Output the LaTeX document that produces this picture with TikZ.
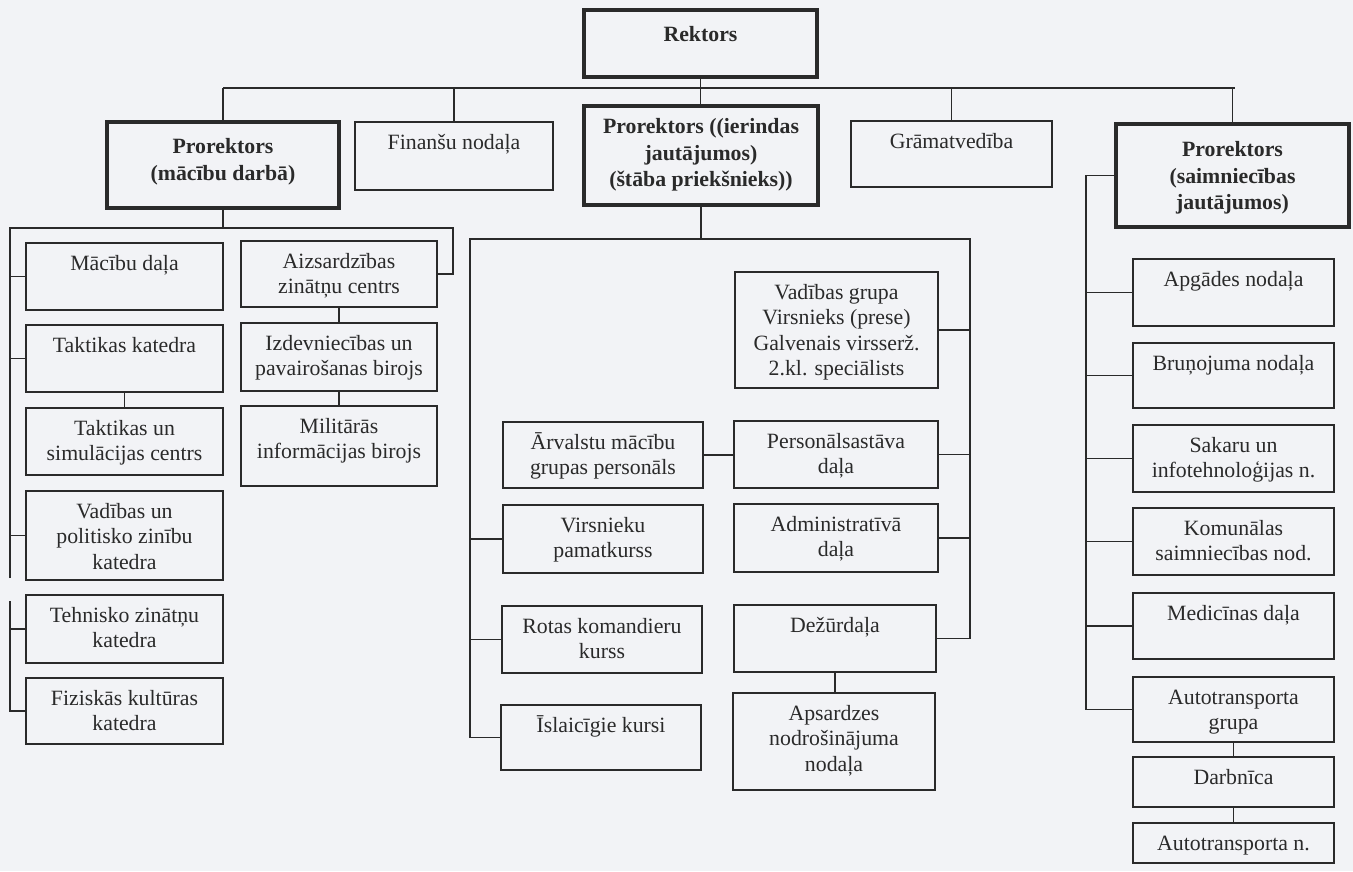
\documentclass[tikz,border=0pt]{standalone}
\usepackage{fontspec}
\setmainfont{Liberation Serif}
\definecolor{ink}{HTML}{2A2A2A}
\definecolor{paper}{HTML}{F2F3F6}
\tikzset{
  box/.style={draw=ink, line width=1.7pt, inner sep=0pt, outer sep=0pt},
  tbox/.style={draw=ink, line width=4pt, inner sep=0pt, outer sep=0pt},
  txt/.style={align=center, inner sep=0pt, text=ink, font=\fontsize{21.8}{25.5}\selectfont},
  btxt/.style={align=center, inner sep=0pt, text=ink, font=\fontsize{21.8}{26.5}\selectfont\bfseries},
  link/.style={draw=ink, line width=1.7pt},
}
% name, x1, y1, x2, y2, box style, text style, text
\newcommand\mkbox[8]{%
  \node[#6, minimum width={(#4-#2)*1pt}, minimum height={(#5-#3)*1pt}] (#1) at ({(#2+#4)/2},{(#3+#5)/2}) {};
  \node[#7, anchor=north] (#1-t) at ([yshift=-9pt]#1.north) {\strut#8};
}
\newcommand\mktbox[7]{%
  \node[tbox, minimum width={(#4-#2)*1pt}, minimum height={(#5-#3)*1pt}] (#1) at ({(#2+#4)/2},{(#3+#5)/2}) {};
  \node[btxt, anchor=north] (#1-t) at ([yshift=-#6pt]#1.north) {\strut#7};
}
\begin{document}
\begin{tikzpicture}[x=1pt, y=-1pt]
\useasboundingbox (0,0) rectangle (1353,871);
\fill[paper] (0,0) rectangle (1353,871);

% top level
\mktbox{rek}{584}{10}{817}{77}{13}{Rektors}
\mktbox{pl}{107}{122}{339}{208}{13}{Prorektors\\(mācību darbā)}
\mkbox{fin}{355}{122}{553}{190}{box}{txt}{Finanšu nodaļa}
\mktbox{pm}{584}{106}{818}{205}{9}{Prorektors ((ierindas\\jautājumos)\\(štāba priekšnieks))}
\mkbox{gra}{851}{121}{1052}{187}{box}{txt}{Grāmatvedība}
\mktbox{pr}{1116}{124}{1349}{227}{14}{Prorektors\\(saimniecības\\jautājumos)}

% left group
\mkbox{md}{26}{243}{223}{310}{box}{txt}{Mācību daļa}
\mkbox{tk}{26}{325}{223}{392}{box}{txt}{Taktikas katedra}
\mkbox{ts}{26}{408}{223}{475}{box}{txt}{Taktikas un\\simulācijas centrs}
\mkbox{vp}{26}{491}{223}{580}{box}{txt}{Vadības un\\politisko zinību\\katedra}
\mkbox{tz}{26}{595}{223}{663}{box}{txt}{Tehnisko zinātņu\\katedra}
\mkbox{fk}{26}{678}{223}{744}{box}{txt}{Fiziskās kultūras\\katedra}
\mkbox{az}{241}{241}{437}{307}{box}{txt}{Aizsardzības\\zinātņu centrs}
\mkbox{iz}{241}{323}{437}{391}{box}{txt}{Izdevniecības un\\pavairošanas birojs}
\mkbox{mi}{241}{406}{437}{486}{box}{txt}{Militārās\\informācijas birojs}

% middle group
\mkbox{vg}{735}{272}{938}{388}{box}{txt}{Vadības grupa\\Virsnieks (prese)\\Galvenais virsserž.\\2.kl. speciālists}
\mkbox{av}{503}{422}{703}{488}{box}{txt}{Ārvalstu mācību\\grupas personāls}
\mkbox{ps}{734}{421}{938}{488}{box}{txt}{Personālsastāva\\daļa}
\mkbox{vk}{503}{505}{703}{573}{box}{txt}{Virsnieku\\pamatkurss}
\mkbox{ad}{734}{504}{938}{572}{box}{txt}{Administratīvā\\daļa}
\mkbox{rk}{502}{606}{702}{673}{box}{txt}{Rotas komandieru\\kurss}
\mkbox{dz}{734}{605}{936}{672}{box}{txt}{Dežūrdaļa}
\mkbox{ik}{501}{705}{701}{770}{box}{txt}{Īslaicīgie kursi}
\mkbox{ap}{733}{693}{935}{790}{box}{txt}{Apsardzes\\nodrošinājuma\\nodaļa}

% right group
\mkbox{apg}{1133}{259}{1334}{326}{box}{txt}{Apgādes nodaļa}
\mkbox{bru}{1133}{343}{1334}{408}{box}{txt}{Bruņojuma nodaļa}
\mkbox{sak}{1133}{425}{1334}{492}{box}{txt}{Sakaru un\\infotehnoloģijas n.}
\mkbox{kom}{1133}{508}{1334}{575}{box}{txt}{Komunālas\\saimniecības nod.}
\mkbox{med}{1133}{593}{1334}{659}{box}{txt}{Medicīnas daļa}
\mkbox{ag}{1133}{677}{1334}{742}{box}{txt}{Autotransporta\\grupa}
\mkbox{db}{1133}{757}{1334}{807}{box}{txt}{Darbnīca}
\mkbox{atn}{1133}{823}{1334}{863}{box}{txt}{Autotransporta n.}

% coordinates for buses
\coordinate (busL) at (223,88);
\coordinate (busR) at (1235,88);
\coordinate (lgTL) at (10,228);
\coordinate (lgTR) at (453,228);
\coordinate (lgB) at (10,578);
\coordinate (lg2T) at (10,601);
\coordinate (mTL) at (470,239);
\coordinate (mTR) at (970,239);
\coordinate (rX) at (1086,0);

% top connectors
\draw[link] (busL) -- (busR);
\draw[link] (rek.south) -- (rek.south |- pm.north);
\draw[link] (pl.north) -- (pl.north |- busL);
\draw[link] (fin.north) -- (fin.north |- busL);
\draw[link] (gra.north) -- (gra.north |- busL);
\draw[link] (pr.north) -- (pr.north |- busR);

% left group connectors
\draw[link] (pl.south) -- (pl.south |- lgTL);
\draw[link] (lgB) -- (lgTL) -- (lgTR) |- (az.east);
\draw[link] (md.west) -- (md.west -| lgTL);
\draw[link] (tk.west) -- (tk.west -| lgTL);
\draw[link] (vp.west) -- (vp.west -| lgTL);
\draw[link] (tk.south) -- (ts.north);
\draw[link] (az.south) -- (iz.north);
\draw[link] (iz.south) -- (mi.north);
\draw[link] (lg2T) |- (fk.west);
\draw[link] (tz.west) -- (tz.west -| lg2T);

% middle group connectors
\draw[link] (pm.south) -- (pm.south |- mTL);
\draw[link] (ik.west) -| (mTL) -- (mTR) |- (dz.east);
\draw[link] (vg.east) -- (vg.east -| mTR);
\draw[link] (ps.east) -- (ps.east -| mTR);
\draw[link] (ad.east) -- (ad.east -| mTR);
\draw[link] (vk.west) -- (vk.west -| mTL);
\draw[link] (rk.west) -- (rk.west -| mTL);
\draw[link] (av.east) -- (av.east -| ps.west);
\draw[link] (dz.south) -- (dz.south |- ap.north);

% right group connectors
\draw[link] (pr.west) -- (pr.west -| rX) |- (ag.west);
\draw[link] (apg.west) -- (apg.west -| rX);
\draw[link] (bru.west) -- (bru.west -| rX);
\draw[link] (sak.west) -- (sak.west -| rX);
\draw[link] (kom.west) -- (kom.west -| rX);
\draw[link] (med.west) -- (med.west -| rX);
\draw[link] (ag.south) -- (db.north);
\draw[link] (db.south) -- (atn.north);
\end{tikzpicture}
\end{document}
